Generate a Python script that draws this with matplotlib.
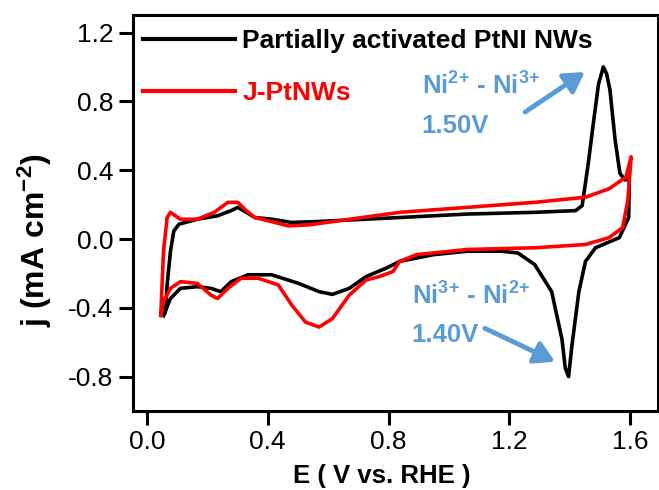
import matplotlib
matplotlib.use("Agg")
import matplotlib.pyplot as plt

plt.rcParams['font.family'] = ['Liberation Sans', 'DejaVu Sans']
plt.rcParams['mathtext.fontset'] = 'custom'
plt.rcParams['mathtext.rm'] = 'Liberation Sans:bold'
plt.rcParams['mathtext.bf'] = 'Liberation Sans:bold'
plt.rcParams['mathtext.it'] = 'Liberation Sans:bold'

# ---- data: Partially activated PtNi NWs (black) ----
black_E_up = [0.055, 0.061, 0.067, 0.078, 0.089, 0.106, 0.167, 0.234, 0.279, 0.301, 0.329, 0.357,
              0.413, 0.48, 0.57, 0.838, 1.061, 1.284, 1.419, 1.441, 1.462, 1.478, 1.495, 1.511,
              1.522, 1.533, 1.55, 1.566, 1.583, 1.597]
black_j_up = [-0.444, -0.424, -0.267, -0.071, 0.046, 0.086, 0.115, 0.135, 0.165, 0.184, 0.155, 0.125,
              0.115, 0.096, 0.102, 0.125, 0.145, 0.155, 0.165, 0.194, 0.45, 0.673, 0.90, 1.0,
              0.96, 0.866, 0.576, 0.382, 0.343, 0.35]
black_E_down = [1.597, 1.595, 1.564, 1.485, 1.452, 1.43, 1.407, 1.396, 1.385, 1.374, 1.34, 1.284,
                1.228, 1.173, 1.061, 0.949, 0.837, 0.793, 0.726, 0.67, 0.614, 0.57, 0.502, 0.413,
                0.335, 0.279, 0.245, 0.212, 0.167, 0.111, 0.078, 0.055]
black_j_down = [0.35, 0.125, 0.008, -0.051, -0.13, -0.306, -0.62, -0.80, -0.75, -0.581, -0.306, -0.149,
                -0.081, -0.071, -0.071, -0.091, -0.13, -0.169, -0.218, -0.287, -0.322, -0.306, -0.258, -0.208,
                -0.208, -0.248, -0.306, -0.287, -0.277, -0.287, -0.346, -0.444]

# ---- data: J-PtNWs (red) ----
red_E_up = [0.046, 0.055, 0.067, 0.078, 0.111, 0.167, 0.223, 0.268, 0.301, 0.329, 0.357, 0.424,
            0.469, 0.536, 0.837, 1.061, 1.284, 1.452, 1.53, 1.586, 1.603]
red_j_up = [-0.444, -0.071, 0.125, 0.155, 0.115, 0.115, 0.155, 0.213, 0.213, 0.165, 0.125, 0.096,
            0.076, 0.082, 0.155, 0.184, 0.213, 0.243, 0.292, 0.36, 0.478]
red_E_down = [1.603, 1.592, 1.575, 1.53, 1.452, 1.284, 1.061, 0.893, 0.837, 0.815, 0.77, 0.726,
              0.67, 0.614, 0.57, 0.525, 0.48, 0.435, 0.368, 0.312, 0.268, 0.234, 0.212, 0.167,
              0.111, 0.078, 0.055, 0.046]
red_j_down = [0.478, 0.223, 0.066, 0.008, -0.032, -0.051, -0.061, -0.091, -0.13, -0.189, -0.218, -0.238,
              -0.326, -0.463, -0.512, -0.483, -0.385, -0.267, -0.228, -0.228, -0.287, -0.346, -0.326, -0.258,
              -0.248, -0.287, -0.365, -0.444]

series_labels = ["Partially activated PtNI NWs", "J-PtNWs"]
series_colors = ["#000000", "#FF0000"]

x_ticks = [0.0, 0.4, 0.8, 1.2, 1.6]
y_ticks = [-0.8, -0.4, 0.0, 0.4, 0.8, 1.2]

ann_color = "#5B9BD5"

fig = plt.figure(figsize=(6.59, 4.90), dpi=100)
ax = fig.add_axes([133/659, 1 - 410.7/490, (658-133)/659, (410.7-15)/490])

ax.plot(black_E_up + black_E_down, black_j_up + black_j_down, color=series_colors[0], lw=2.6,
        label=series_labels[0], solid_joinstyle='round')
ax.plot(red_E_up + red_E_down, red_j_up + red_j_down, color=series_colors[1], lw=2.6,
        label=series_labels[1], solid_joinstyle='round')

ax.set_xlim(-0.046, 1.692)
ax.set_ylim(-0.998, 1.302)
ax.set_xticks(x_ticks)
ax.set_yticks(y_ticks)
ax.set_xticklabels([f"{v:.1f}" for v in x_ticks])
ax.set_yticklabels([f"{v:.1f}" for v in y_ticks])
ax.tick_params(direction='out', length=10, width=2.2, labelsize=19, pad=4)
for s in ax.spines.values():
    s.set_linewidth(2.2)

ax.set_xlabel("E ( V vs. RHE )", fontsize=18.5, fontweight='bold')
ax.xaxis.set_label_coords(0.474, -0.135)
ax.set_ylabel(r"j (mA cm$^{-2}$)", fontsize=23, fontweight='bold')
ax.yaxis.set_label_coords(-0.15, 0.431)

leg = ax.legend(loc='upper left', bbox_to_anchor=(0.019, 0.965), frameon=False,
                borderpad=0, borderaxespad=0, handlelength=3.5, handletextpad=0.27,
                labelspacing=1.06, prop={'weight': 'bold', 'size': 19})
for txt, c in zip(leg.get_texts(), series_colors):
    txt.set_color(c)
for h in leg.legend_handles:
    h.set_linewidth(3)

ann_kw = dict(color=ann_color, fontsize=18.5, fontweight='bold', va='baseline')
ax.text(0.91, 0.837, r"Ni$^{2{+}}$ - Ni$^{3{+}}$", **ann_kw)
ax.text(0.91, 0.616, "1.50V", **ann_kw)
ax.text(0.877, -0.384, r"Ni$^{3{+}}$ - Ni$^{2{+}}$", **ann_kw)
ax.text(0.877, -0.599, "1.40V", **ann_kw)

arrow_kw = dict(arrowstyle='-|>,head_length=0.6,head_width=0.35', lw=3.5, color=ann_color,
                mutation_scale=20, shrinkA=0, shrinkB=0)
ax.annotate("", xy=(1.450, 0.971), xytext=(1.252, 0.738), arrowprops=arrow_kw)
ax.annotate("", xy=(1.351, -0.713), xytext=(1.119, -0.519), arrowprops=arrow_kw)

fig.savefig("out.png", dpi=100)
